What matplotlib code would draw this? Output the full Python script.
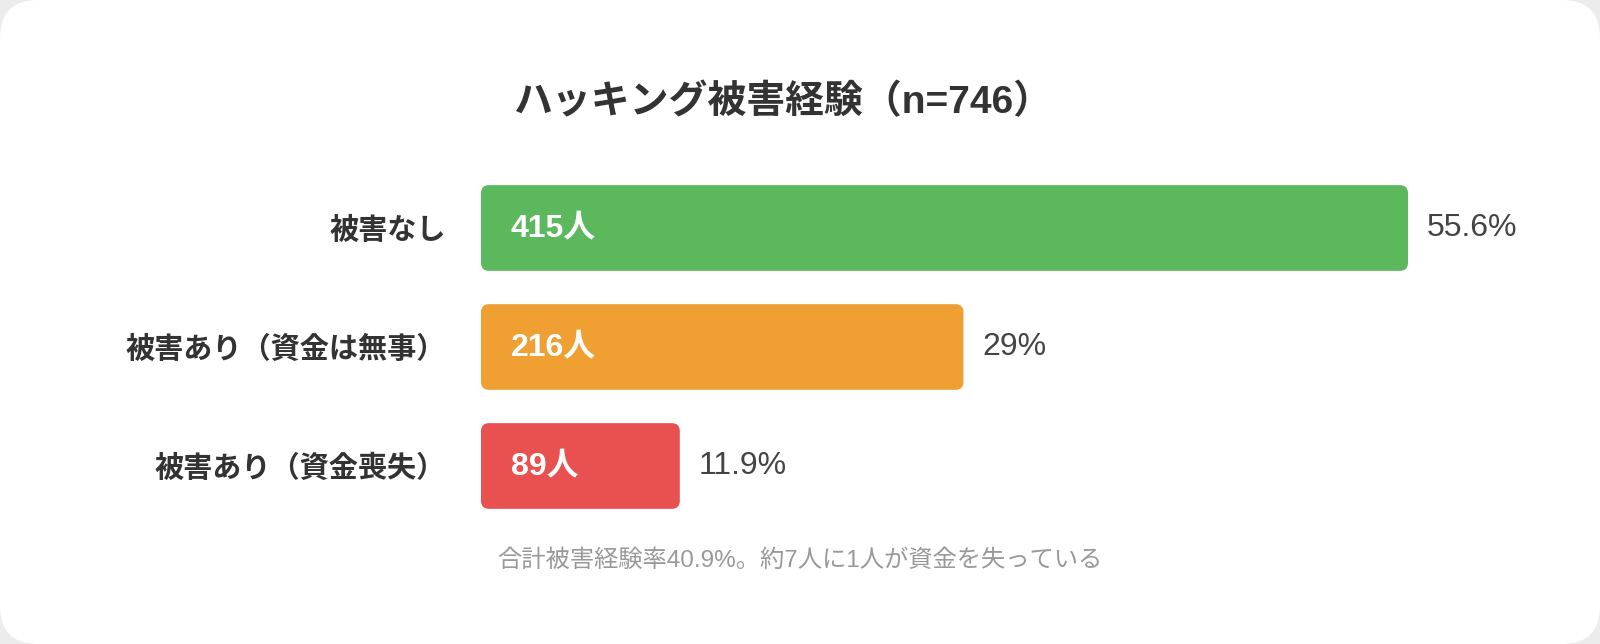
import matplotlib
matplotlib.use('Agg')
import matplotlib.pyplot as plt
from matplotlib.patches import FancyBboxPatch

plt.rcParams['font.family'] = ['Liberation Sans', 'Noto Sans CJK JP', 'DejaVu Sans']

# Datos
categories = ['被害なし', '被害あり（資金は無事）', '被害あり（資金喪失）']
counts = [415, 216, 89]
pct_labels = ['55.6%', '29%', '11.9%']
colors = ['#5cb85c', '#f0a033', '#e8514f']
title = 'ハッキング被害経験（n=746）'
note = '合計被害経験率40.9%。約7人に1人が資金を失っている'

W, H = 1600, 644
fig = plt.figure(figsize=(W / 100, H / 100), dpi=100)
fig.patch.set_facecolor('#ececec')

# tarjeta blanca con esquinas redondeadas
card = FancyBboxPatch((0, 0), W, H, boxstyle='round,pad=0,rounding_size=38',
                      transform=None, facecolor='white', edgecolor='none', zorder=-10)
fig.patches.append(card)

ax = fig.add_axes([481 / W, (H - 525.5) / H, 927 / W, 357 / H])
ax.set_facecolor('none')
bars = ax.barh(range(len(counts)), counts, height=0.72, color='none')
ax.set_xlim(0, max(counts))
ax.set_ylim(len(counts) - 0.5, -0.5)
fig.canvas.draw()

# relación de aspecto para el redondeo de las barras
x0, y0 = ax.transData.transform((0, 0))
x1, y1 = ax.transData.transform((1, 1))
ux = 1 / abs(x1 - x0)
uy = 1 / abs(y1 - y0)
r = 8 * ux
for b, c in zip(bars, colors):
    p = FancyBboxPatch((b.get_x(), b.get_y()), b.get_width(), b.get_height(),
                       boxstyle=f'round,pad=0,rounding_size={r}',
                       mutation_aspect=uy / ux, facecolor=c, edgecolor='none')
    ax.add_patch(p)

for i, (v, pl) in enumerate(zip(counts, pct_labels)):
    ax.annotate(f'{v}人', (0, i), xytext=(30, 0), textcoords='offset pixels',
                ha='left', va='center', color='white', fontsize=23, fontweight='bold')
    ax.annotate(pl, (v, i), xytext=(19, 0), textcoords='offset pixels',
                ha='left', va='center', color='#444444', fontsize=23)

ax.set_yticks(range(len(categories)))
ax.set_yticklabels(categories, fontsize=21, fontweight='bold', color='#333333')
ax.tick_params(axis='y', length=0, pad=25)
ax.set_xticks([])
for s in ax.spines.values():
    s.set_visible(False)

fig.text(783 / W, 1 - 102 / H, title, ha='center', va='center',
         fontsize=28, fontweight='bold', color='#333333')
fig.text(800 / W, 1 - 561 / H, note, ha='center', va='center',
         fontsize=17.5, color='#999999')

fig.savefig('out.png', dpi=100, facecolor=fig.get_facecolor())
